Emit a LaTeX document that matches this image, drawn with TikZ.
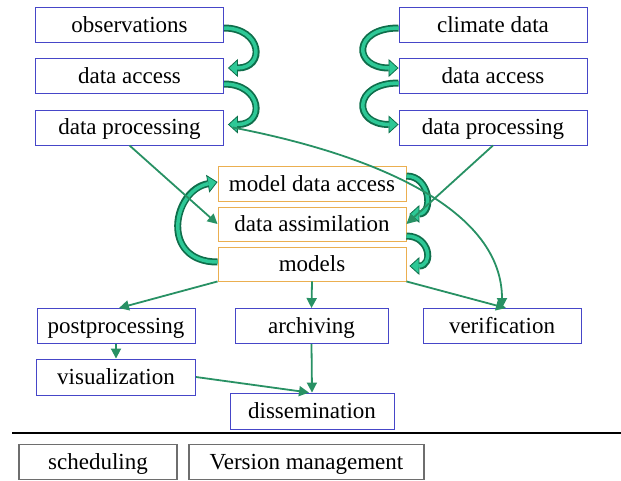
\documentclass[tikz,border=0pt]{standalone}
\usepackage{fontspec}
\setmainfont{Liberation Serif}
\usepackage{tikz}
\usetikzlibrary{arrows.meta, positioning, calc}
\definecolor{boxblue}{RGB}{70, 70, 200}
\definecolor{boxorange}{RGB}{235, 175, 80}
\definecolor{boxgrey}{RGB}{110, 110, 110}
\definecolor{flowgreen}{RGB}{40, 145, 100}
\definecolor{benddark}{RGB}{15, 110, 75}
\definecolor{bendlight}{RGB}{45, 200, 150}

\begin{document}
\begin{tikzpicture}[x=1pt, y=-1pt,
    box/.style={draw, line width=0.9pt, inner sep=0pt, minimum height=35pt, text height=17pt, text depth=3pt,
        font=\fontsize{23}{26}\selectfont},
    bluebox/.style={box, draw=boxblue, minimum width=188pt},
    orangebox/.style={box, draw=boxorange, minimum width=188pt},
    greybox/.style={box, draw=boxgrey, line width=1.1pt},
    flow/.style={draw=flowgreen, line width=1.8pt, -{Triangle[length=10pt, width=10pt]}},
    bendarrow/.style={draw=benddark, line width=7pt, -{Triangle[length=10pt, width=18pt, fill=bendlight, line width=0.8pt]},
        postaction={draw=bendlight, line width=3.5pt, -, shorten >=9pt}}]
    \useasboundingbox (0,0) rectangle (621,480);

    % input chains
    \node[bluebox] (obs) at (129.5, 25) {observations};
    \node[bluebox] (accL) at (129.5, 76) {data access};
    \node[bluebox] (procL) at (129.5, 127.5) {data processing};
    \node[bluebox] (clim) at (493, 25) {climate data};
    \node[bluebox] (accR) at (493, 76) {data access};
    \node[bluebox] (procR) at (493, 127.5) {data processing};

    % model chain
    \node[orangebox] (mda) at (312, 184) {model data access};
    \node[orangebox, minimum height=34pt] (assim) at (312, 224) {data assimilation};
    \node[orangebox, minimum height=34pt] (models) at (312, 264) {models};

    % output
    \node[bluebox, minimum width=158pt] (post) at (116, 326) {postprocessing};
    \node[bluebox, minimum width=153pt] (arch) at (311.5, 326) {archiving};
    \node[bluebox, minimum width=158pt] (verif) at (502, 326) {verification};
    \node[bluebox, minimum width=159pt, minimum height=36pt] (visu) at (116, 377) {visualization};
    \node[bluebox, minimum width=164pt, minimum height=36pt] (diss) at (312, 411) {dissemination};

    \draw[line width=2.2pt] (12, 433) -- (621, 433);
    \node[greybox, minimum width=158pt] (sched) at (98, 462) {scheduling};
    \node[greybox, minimum width=235pt] (vers) at (306.5, 462) {Version management};

    % curved block arrows
    \draw[bendarrow] ($(obs.east)+(0,3)$) .. controls +(38,0) and +(38,0) .. ($(accL.east)+(4,-8)$);
    \draw[bendarrow] ($(accL.east)+(0,8)$) .. controls +(38,0) and +(38,0) .. ($(procL.east)+(4,-3)$);
    \draw[bendarrow] ($(clim.west)+(0,3)$) .. controls +(-46,0) and +(-46,0) .. ($(accR.west)+(0,-8)$);
    \draw[bendarrow] ($(accR.west)+(0,7)$) .. controls +(-46,0) and +(-46,0) .. ($(procR.west)+(0,-3)$);
    \draw[bendarrow] ($(mda.east)+(0,-8)$) .. controls +(24,0) and +(24,0) .. ($(assim.east)+(3,-10)$);
    \draw[bendarrow] ($(assim.east)+(0,12)$) .. controls +(24,0) and +(24,0) .. ($(models.east)+(3,2)$);
    \draw[bendarrow] ($(models.west)+(0,-2)$) .. controls +(-58,0) and +(-45,8) .. ($(mda.west)+(0,-2)$);

    % data flow
    \draw[flow] (procL.south) -- (assim.west);
    \draw[flow] (procR.south) -- (assim.east);
    \draw[flow] ($(procL.east)+(9,0)$) .. controls +(150,29) and +(0,-96) .. (verif.north);
    \draw[flow] (models.south west) -- ($(post.north)+(3,0)$);
    \draw[flow] (models.south) -- (arch.north);
    \draw[flow] (models.south east) -- ($(verif.north)+(4,0)$);
    \draw[flow] (post.south) -- (visu.north);
    \draw[flow] (visu.east) -- ($(diss.north)+(-3,0)$);
    \draw[flow] (arch.south) -- (diss.north);
\end{tikzpicture}
\end{document}
